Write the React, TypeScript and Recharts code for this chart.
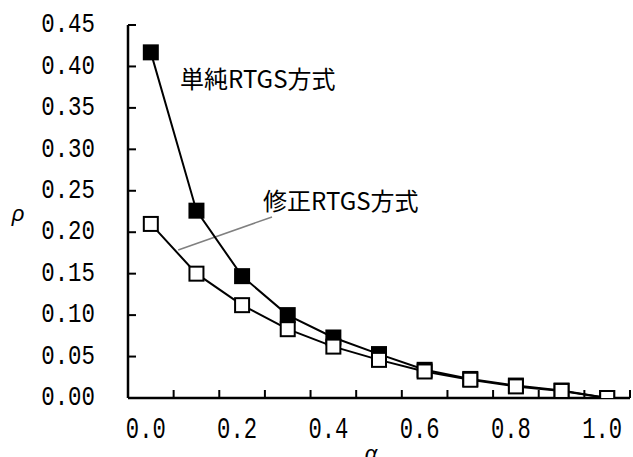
import React from 'react';
import { LineChart, Line, XAxis, YAxis, ReferenceLine, ReferenceDot } from 'recharts';

const alphaValues = [0.0, 0.1, 0.2, 0.3, 0.4, 0.5, 0.6, 0.7, 0.8, 0.9, 1.0];
const simpleRTGS = [0.417, 0.226, 0.147, 0.1, 0.073, 0.053, 0.034, 0.023, 0.015, 0.009, 0.0];
const modifiedRTGS = [0.21, 0.15, 0.112, 0.083, 0.062, 0.046, 0.032, 0.022, 0.014, 0.0085, 0.0];
const seriesNames = ['単純RTGS方式', '修正RTGS方式'];
const xLabelTicks = [0.0, 0.2, 0.4, 0.6, 0.8, 1.0];
const xBoundaryTicks = [-0.05, 0.05, 0.15, 0.25, 0.35, 0.45, 0.55, 0.65, 0.75, 0.85, 0.95, 1.05];
const yTicks = [0, 0.05, 0.1, 0.15, 0.2, 0.25, 0.3, 0.35, 0.4, 0.45];
const xAxisTitle = 'α';
const yAxisTitle = 'ρ';

// annotation anchors in data units
const simpleLabelPos = { x: 0.064, y: 0.387 };
const modifiedLabelPos = { x: 0.246, y: 0.239 };
const leader = [{ x: 0.06, y: 0.1786 }, { x: 0.2655, y: 0.2184 }];

const data = alphaValues.map((a, i) => ({ alpha: a, simple: simpleRTGS[i], modified: modifiedRTGS[i] }));
const allXTicks = [...xBoundaryTicks, ...xLabelTicks].sort((a, b) => a - b);

const tickFont = '"Liberation Mono", monospace';
const cjkFont = '"Noto Sans CJK JP", sans-serif';

const XTick = (props: any) => {
  const { x, y, payload } = props;
  const v = payload.value;
  const isLabel = xLabelTicks.some((t) => Math.abs(t - v) < 1e-6);
  if (isLabel) {
    return (
      <text transform={`translate(${x - 5},${y + 32}) scale(0.74,1)`} textAnchor="middle"
        dominantBaseline="central" fontFamily={tickFont} fontSize={30} fill="#000">
        {v.toFixed(1)}
      </text>
    );
  }
  return <line x1={x} y1={y} x2={x} y2={y - 8} stroke="#000" strokeWidth={2} />;
};

const YTick = (props: any) => {
  const { x, y, payload } = props;
  return (
    <g>
      <line x1={x} y1={y} x2={x + 8} y2={y} stroke="#000" strokeWidth={2} />
      <text transform={`translate(${x - 33},${y}) scale(0.8,1)`} textAnchor="end"
        dominantBaseline="central" fontFamily={tickFont} fontSize={28} fill="#000">
        {payload.value.toFixed(2)}
      </text>
    </g>
  );
};

const makeSquare = (fill: string) => (props: any) => {
  const { cx, cy, index } = props;
  if (cx == null || cy == null) return <g key={index} />;
  return (
    <rect key={index} x={cx - 7} y={cy - 7} width={14} height={14}
      fill={fill} stroke="#000" strokeWidth={2} />
  );
};

const textLabel = (text: string) => (props: any) => {
  const vb = props.viewBox || {};
  return (
    <text x={vb.x} y={vb.y} textAnchor="start" dominantBaseline="central"
      fontFamily={cjkFont} fontSize={24} fill="#000">
      {text}
    </text>
  );
};

export default function App() {
  return (
    <div style={{ position: 'absolute', left: 0, top: 0, width: 633, height: 457, background: '#fff' }}>
      <LineChart width={633} height={457} data={data}
        margin={{ top: 25, right: 3, bottom: 19, left: 28 }}>
        <XAxis dataKey="alpha" type="number" domain={[-0.05, 1.05]} ticks={allXTicks}
          interval={0} tick={<XTick />} tickLine={false} tickSize={0} tickMargin={0}
          axisLine={{ stroke: '#000', strokeWidth: 2.5 }} height={40} allowDataOverflow />
        <YAxis type="number" domain={[0, 0.45]} ticks={yTicks} interval={0}
          tick={<YTick />} tickLine={false} tickSize={0} tickMargin={0}
          axisLine={{ stroke: '#000', strokeWidth: 2.5 }} width={100} allowDataOverflow />
        <ReferenceLine segment={leader} stroke="#808080" strokeWidth={1.5} ifOverflow="visible" />
        <Line dataKey="simple" name={seriesNames[0]} stroke="#000" strokeWidth={2}
          dot={makeSquare('#000')} isAnimationActive={false} />
        <Line dataKey="modified" name={seriesNames[1]} stroke="#000" strokeWidth={2}
          dot={makeSquare('#fff')} isAnimationActive={false} />
        <ReferenceDot x={simpleLabelPos.x} y={simpleLabelPos.y} r={0} fill="none" stroke="none"
          label={textLabel(seriesNames[0])} ifOverflow="visible" />
        <ReferenceDot x={modifiedLabelPos.x} y={modifiedLabelPos.y} r={0} fill="none" stroke="none"
          label={textLabel(seriesNames[1])} ifOverflow="visible" />
      </LineChart>
      <svg width={633} height={457} style={{ position: 'absolute', left: 0, top: 0, pointerEvents: 'none' }}>
        <text x={18} y={221} textAnchor="middle" fontFamily='"Liberation Sans", sans-serif'
          fontStyle="italic" fontSize={22} fill="#000">{yAxisTitle}</text>
        <text x={371} y={461} textAnchor="middle" fontFamily='"Liberation Sans", sans-serif'
          fontStyle="italic" fontSize={22} fill="#000">{xAxisTitle}</text>
      </svg>
    </div>
  );
}
